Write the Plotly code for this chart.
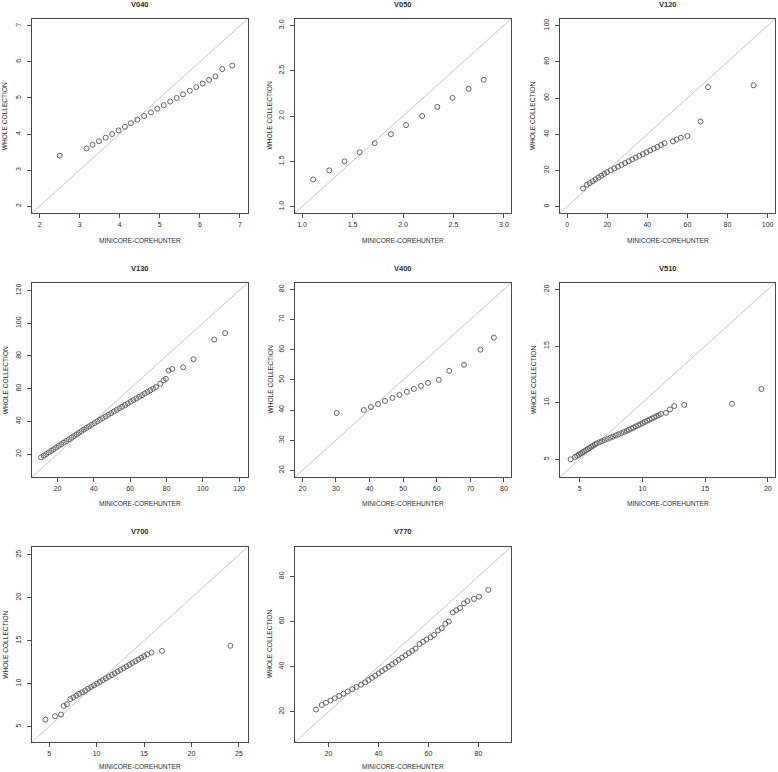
import plotly.graph_objects as go

# ---------------- data ----------------
panel_names = ["V040", "V050", "V120", "V130", "V400", "V510", "V700", "V770"]

v040_x = [2.50, 3.17, 3.32, 3.48, 3.65, 3.81, 3.97, 4.13, 4.28, 4.44, 4.61, 4.78,
          4.94, 5.10, 5.26, 5.42, 5.58, 5.75, 5.91, 6.07, 6.23, 6.39, 6.56, 6.81]
v040_y = [3.4, 3.6, 3.7, 3.8, 3.9, 4.0, 4.1, 4.2, 4.3, 4.4, 4.5, 4.6,
          4.7, 4.8, 4.9, 5.0, 5.1, 5.2, 5.3, 5.4, 5.5, 5.6, 5.8, 5.9]

v050_x = [1.11, 1.27, 1.42, 1.57, 1.72, 1.88, 2.03, 2.19, 2.34, 2.49, 2.65, 2.80]
v050_y = [1.3, 1.4, 1.5, 1.6, 1.7, 1.8, 1.9, 2.0, 2.1, 2.2, 2.3, 2.4]

v120_x = [7.9, 9.8, 11.2, 12.7, 14.1, 15.6, 17.0, 18.5, 19.9, 21.7, 23.5, 25.3, 27.1,
          28.9, 30.7, 32.4, 34.2, 36.0, 37.8, 39.6, 41.4, 43.2, 45.0, 46.8, 48.6,
          52.8, 54.6, 56.7, 60.0, 66.5, 70.3, 93.0]
v120_y = [10, 12, 13, 14, 15, 16, 17, 18, 19, 20, 21, 22, 23,
          24, 25, 26, 27, 28, 29, 30, 31, 32, 33, 34, 35,
          36, 37, 38, 39, 47, 66, 67]

v130_x = [11.0, 12.4, 13.8, 15.2, 16.6, 17.9, 19.3, 20.7, 22.1, 23.5, 24.9, 26.3,
          27.7, 29.1, 30.5, 31.8, 33.2, 34.6, 36.0, 37.4, 38.9, 40.4, 41.9, 43.4,
          44.9, 46.5, 48.0, 49.5, 51.0, 52.6, 54.1, 55.6, 57.2, 58.7, 60.3, 61.8,
          63.4, 64.9, 66.5, 68.0, 69.6, 71.1, 72.7, 74.2,
          76.6, 78.4, 79.7, 81.2, 83.2, 89.2, 94.9, 106.3, 112.3]
v130_y = [18, 19, 20, 21, 22, 23, 24, 25, 26, 27, 28, 29,
          30, 31, 32, 33, 34, 35, 36, 37, 38, 39, 40, 41,
          42, 43, 44, 45, 46, 47, 48, 49, 50, 51, 52, 53,
          54, 55, 56, 57, 58, 59, 60, 61,
          63, 65, 66, 71, 72, 73, 78, 90, 94]

v400_x = [30.2, 38.3, 40.4, 42.5, 44.6, 46.8, 48.9, 51.1, 53.2, 55.3, 57.4, 60.6,
          63.7, 68.1, 73.0, 77.0]
v400_y = [39, 40, 41, 42, 43, 44, 45, 46, 47, 48, 49, 50, 53, 55, 60, 64]

v510_x = [4.28, 4.63, 4.80, 4.94, 5.08, 5.22, 5.36, 5.51, 5.65, 5.79, 5.93, 6.07,
          6.21, 6.35, 6.57, 6.78, 7.00, 7.22, 7.44, 7.65, 7.87, 8.09, 8.31, 8.52,
          8.74, 8.92, 9.11, 9.29, 9.47, 9.66, 9.84, 10.02, 10.20, 10.39, 10.57,
          10.75, 10.93, 11.12, 11.30, 11.48, 11.88, 12.20, 12.54, 13.34, 17.14, 19.49]
v510_y = [5.0, 5.2, 5.3, 5.4, 5.5, 5.6, 5.7, 5.8, 5.9, 6.0, 6.1, 6.2,
          6.3, 6.4, 6.5, 6.6, 6.7, 6.8, 6.9, 7.0, 7.1, 7.2, 7.3, 7.4,
          7.5, 7.6, 7.7, 7.8, 7.9, 8.0, 8.1, 8.2, 8.3, 8.4, 8.5,
          8.6, 8.7, 8.8, 8.9, 9.0, 9.1, 9.4, 9.7, 9.8, 9.9, 11.2]

v700_x = [4.62, 5.63, 6.26, 6.54, 6.88, 7.24, 7.55, 7.86, 8.17, 8.48, 8.80, 9.11,
          9.42, 9.73, 10.04, 10.35, 10.66, 10.97, 11.28, 11.60, 11.91, 12.22, 12.53,
          12.84, 13.15, 13.46, 13.77, 14.08, 14.40, 14.71, 15.02, 15.33,
          15.79, 16.90, 24.10]
v700_y = [5.8, 6.2, 6.4, 7.4, 7.6, 8.2, 8.4, 8.6, 8.8, 9.0, 9.2, 9.4,
          9.6, 9.8, 10.0, 10.2, 10.4, 10.6, 10.8, 11.0, 11.2, 11.4, 11.6,
          11.8, 12.0, 12.2, 12.4, 12.6, 12.8, 13.0, 13.2, 13.4,
          13.6, 13.8, 14.4]

v770_x = [15.0, 17.3, 19.0, 20.8, 22.5, 24.3, 26.0, 27.7, 29.5, 31.2, 33.0, 34.7,
          36.0, 37.4, 38.7, 40.1, 41.4, 42.7, 44.1, 45.4, 46.8, 48.1, 49.4, 50.8,
          52.1, 53.5, 54.8, 56.4, 57.8, 59.2, 60.8, 62.2, 63.8, 65.3, 66.7, 68.1,
          69.7, 71.1, 72.6, 74.2, 75.6, 78.2, 80.2, 83.9]
v770_y = [21, 23, 24, 25, 26, 27, 28, 29, 30, 31, 32, 33,
          34, 35, 36, 37, 38, 39, 40, 41, 42, 43, 44, 45,
          46, 47, 48, 50, 51, 52, 53, 54, 56, 57, 59, 60,
          64, 65, 66, 68, 69, 70, 71, 74]

panel_x = [v040_x, v050_x, v120_x, v130_x, v400_x, v510_x, v700_x, v770_x]
panel_y = [v040_y, v050_y, v120_y, v130_y, v400_y, v510_y, v700_y, v770_y]

# axis limits (same on x and y) and tick spacing
panel_lims = [(1.81, 7.19), (0.93, 3.07), (-3.6, 103.7), (6.0, 124.6),
              (17.8, 82.1), (3.43, 20.57), (3.2, 25.9), (6.6, 93.0)]
panel_dtick = [1, 0.5, 20, 20, 10, 5, 5, 20]
panel_tick0 = [0, 0, 0, 0, 0, 0, 0, 0]
panel_fmt = ["", ".1f", "", "", "", "", "", ""]

x_label = "MINICORE-COREHUNTER"
y_label = "WHOLE COLLECTION"

# ---------------- layout geometry (pixels) ----------------
W, H = 778, 772
cols_px = [(32, 247.5), (295, 511), (560, 775)]
rows_px = [(19, 213), (283, 477), (547, 742)]
title_y = [4.5, 268, 531.7]
xlab_y = [240, 503.7, 766]
ylab_x = [5.3, 269.5, 533]

TXT = "#2b2b2b"
FRAME = "#4a4a4a"
PT = "#555555"
DIAG = "#b8b8b8"
FONT = "Liberation Sans, Arial, sans-serif"

fig = go.Figure()
annotations = []
layout_axes = {}

for i, name in enumerate(panel_names):
    r, c = divmod(i, 3)
    k = "" if i == 0 else str(i + 1)
    lo, hi = panel_lims[i]
    x0, x1 = cols_px[c]
    y0, y1 = rows_px[r]

    # diagonal y = x (drawn across the axis limits)
    fig.add_trace(go.Scatter(
        x=[lo, hi], y=[lo, hi], mode="lines",
        line=dict(color=DIAG, width=0.8),
        xaxis="x" + k, yaxis="y" + k, showlegend=False, hoverinfo="skip"))
    # points
    fig.add_trace(go.Scatter(
        x=panel_x[i], y=panel_y[i], mode="markers",
        marker=dict(symbol="circle-open", size=5, color=PT,
                    line=dict(color=PT, width=0.9)),
        xaxis="x" + k, yaxis="y" + k, showlegend=False))

    common = dict(
        range=[lo, hi], showgrid=False, zeroline=False,
        showline=True, mirror=True, linecolor=FRAME, linewidth=1.3,
        ticks="outside", ticklen=4, tickwidth=1, tickcolor=FRAME,
        tickmode="linear", tick0=panel_tick0[i], dtick=panel_dtick[i],
        tickformat=panel_fmt[i], ticklabeloverflow="allow",
        tickfont=dict(family=FONT, size=7, color=TXT),
        fixedrange=True,
    )
    layout_axes["xaxis" + k] = dict(common, domain=[x0 / W, x1 / W],
                                    anchor="y" + k)
    layout_axes["yaxis" + k] = dict(common, domain=[1 - y1 / H, 1 - y0 / H],
                                    anchor="x" + k, tickangle=-90,
                                    ticklabelstandoff=3)

    cx = (x0 + x1) / 2 / W
    annotations.append(dict(
        text="<b>%s</b>" % name, x=cx, y=1 - title_y[r] / H,
        xref="paper", yref="paper", xanchor="center", yanchor="middle",
        showarrow=False, font=dict(family=FONT, size=7.5, color=TXT)))
    annotations.append(dict(
        text=x_label, x=cx, y=1 - xlab_y[r] / H,
        xref="paper", yref="paper", xanchor="center", yanchor="middle",
        showarrow=False, font=dict(family=FONT, size=6.6, color=TXT)))
    annotations.append(dict(
        text=y_label, x=ylab_x[c] / W, y=1 - (y0 + y1) / 2 / H,
        xref="paper", yref="paper", xanchor="center", yanchor="middle",
        textangle=-90, showarrow=False,
        font=dict(family=FONT, size=6.6, color=TXT)))

fig.update_layout(
    width=W, height=H, margin=dict(l=0, r=0, t=0, b=0),
    paper_bgcolor="white", plot_bgcolor="white",
    annotations=annotations, showlegend=False, hovermode=False,
    **layout_axes,
)

fig.write_html("out.html",
               config={"displayModeBar": False, "staticPlot": True},
               post_script="document.body.style.margin='0px';"
                           "document.body.style.overflow='hidden';")
